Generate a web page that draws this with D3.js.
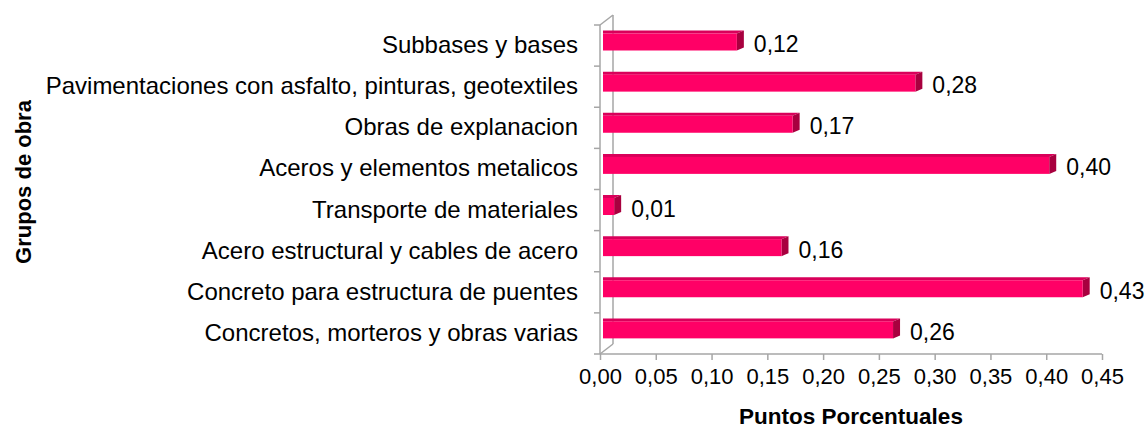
<!DOCTYPE html>
<html>
<head>
<meta charset="utf-8">
<script src="https://cdn.jsdelivr.net/npm/d3@7"></script>
<style>
  body { margin: 0; background: #fff; }
  svg { display: block; font-family: "Liberation Sans", Arial, sans-serif; }
</style>
</head>
<body>
<svg id="chart" width="1145" height="431"></svg>
<script>
// categories from top to bottom, as in the picture
const categories = [
  "Subbases y bases",
  "Pavimentaciones con asfalto, pinturas, geotextiles",
  "Obras de explanacion",
  "Aceros y elementos metalicos",
  "Transporte de materiales",
  "Acero estructural y cables de acero",
  "Concreto para estructura de puentes",
  "Concretos, morteros y obras varias"
];
const values = [0.12, 0.28, 0.17, 0.40, 0.01, 0.16, 0.43, 0.26];
const xTicks = [0, 0.05, 0.10, 0.15, 0.20, 0.25, 0.30, 0.35, 0.40, 0.45];

const svg = d3.select("#chart");
const fmt = v => d3.format(".2f")(v).replace(".", ",");

const x = d3.scaleLinear().domain([0, 0.45]).range([600, 1102]);
const y = d3.scaleBand().domain(categories).range([25, 354]).padding(0);

// 3d offsets
const depthX = 7, depthY = 3;       // side face of the bars
const wallX = 13, wallY = 10;       // back wall
const barShift = 3;                 // bars sit a bit inside the floor

const grey = "#a6a6a6";

// walls / axis lines
svg.append("line")
  .attr("x1", x(0)).attr("x2", x(0))
  .attr("y1", y.range()[0]).attr("y2", y.range()[1])
  .attr("stroke", grey).attr("stroke-width", 1.5);
svg.append("line")
  .attr("x1", x(0) + wallX).attr("x2", x(0) + wallX)
  .attr("y1", y.range()[0] - wallY).attr("y2", y.range()[1] - wallY)
  .attr("stroke", grey).attr("stroke-width", 1.5);
svg.append("line")
  .attr("x1", x(0)).attr("y1", y.range()[0])
  .attr("x2", x(0) + wallX).attr("y2", y.range()[0] - wallY)
  .attr("stroke", grey).attr("stroke-width", 1.5);
svg.append("line")
  .attr("x1", x(0)).attr("y1", y.range()[1])
  .attr("x2", x(0) + wallX).attr("y2", y.range()[1] - wallY)
  .attr("stroke", grey).attr("stroke-width", 1.5);

// category ticks (band edges)
const edges = categories.map(c => y(c)).concat([y.range()[1]]);
svg.selectAll(".ytick")
  .data(edges).enter()
  .append("line")
  .attr("class", "ytick")
  .attr("x1", x(0) - 6).attr("x2", x(0))
  .attr("y1", d => d).attr("y2", d => d)
  .attr("stroke", grey).attr("stroke-width", 1.5);

// x axis
const xAxis = svg.append("g")
  .attr("transform", `translate(0,${y.range()[1]})`)
  .call(d3.axisBottom(x).tickValues(xTicks).tickSize(6).tickPadding(8).tickFormat(fmt));
xAxis.select(".domain").attr("stroke", grey).attr("stroke-width", 1.5)
  .attr("d", `M${x(0)},0H${x(0.45)}`);
xAxis.selectAll(".tick line").attr("stroke", grey).attr("stroke-width", 1.5);
xAxis.selectAll(".tick text")
  .attr("fill", "#000")
  .style("font-size", "22px")
  .attr("dy", "0.71em");

// bars
const bars = svg.selectAll(".bar")
  .data(categories).enter()
  .append("g")
  .attr("class", "bar");

const x0 = x(0) + barShift;
const frontTop = c => y(c) + 8.5;
const frontH = 17;

// top face
bars.append("polygon")
  .attr("points", (c, i) => {
    const xe = x(values[i]) + barShift, t = frontTop(c);
    return [[x0, t], [xe, t], [xe + depthX, t - depthY], [x0, t - depthY]].join(" ");
  })
  .attr("fill", "#d9005a");

// side face
bars.append("polygon")
  .attr("points", (c, i) => {
    const xe = x(values[i]) + barShift, t = frontTop(c);
    return [[xe, t], [xe + depthX, t - depthY], [xe + depthX, t - depthY + frontH], [xe, t + frontH]].join(" ");
  })
  .attr("fill", "#a8003f");

// front face
bars.append("rect")
  .attr("x", x0)
  .attr("y", c => frontTop(c))
  .attr("width", (c, i) => x(values[i]) + barShift - x0)
  .attr("height", frontH)
  .attr("fill", "#ff0066");

// value labels
bars.append("text")
  .attr("x", (c, i) => x(values[i]) + barShift + 17)
  .attr("y", c => y(c) + 19)
  .attr("dominant-baseline", "central")
  .style("font-size", "23px")
  .text((c, i) => fmt(values[i]));

// category labels
svg.selectAll(".cat")
  .data(categories).enter()
  .append("text")
  .attr("class", "cat")
  .attr("x", 578)
  .attr("y", c => y(c) + 19.5)
  .attr("text-anchor", "end")
  .attr("dominant-baseline", "central")
  .style("font-size", "24px")
  .text(c => c);

// axis titles
svg.append("text")
  .attr("x", 851).attr("y", 416)
  .attr("text-anchor", "middle")
  .attr("dominant-baseline", "central")
  .style("font-size", "22.5px").style("font-weight", "bold")
  .text("Puntos Porcentuales");

svg.append("text")
  .attr("transform", "translate(23,182) rotate(-90)")
  .attr("text-anchor", "middle")
  .attr("dominant-baseline", "central")
  .style("font-size", "22px").style("font-weight", "bold")
  .text("Grupos de obra");
</script>
</body>
</html>
